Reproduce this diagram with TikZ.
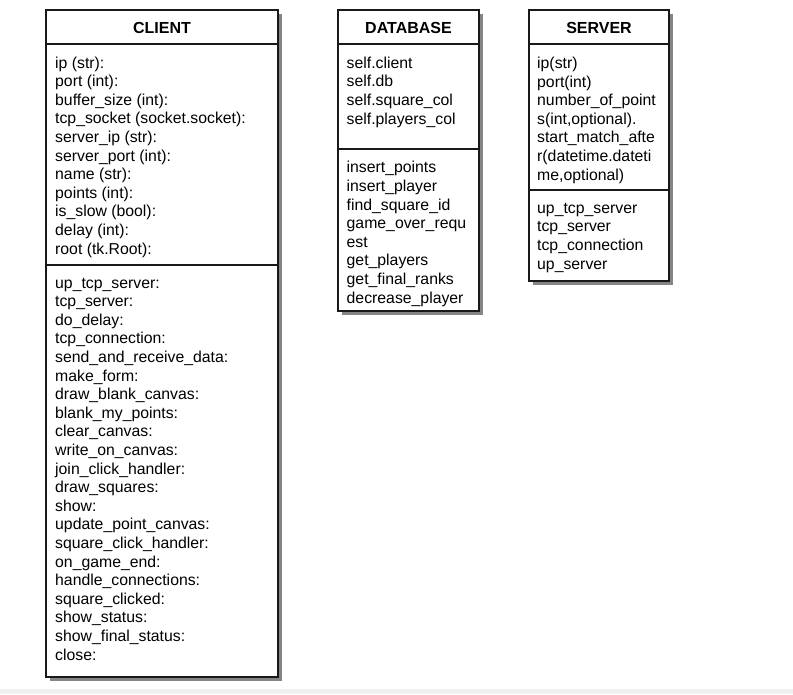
\documentclass[tikz,border=0pt]{standalone}
\usepackage{fontspec}
\setmainfont{Liberation Sans}
\usetikzlibrary{positioning}
\usetikzlibrary{shadows}
\definecolor{shadow-gray}{RGB}{120,120,120}
\definecolor{strip-gray}{RGB}{240,240,240}

\begin{document}
\begin{tikzpicture}[x=1pt, y=-1pt,
box/.style={draw=black!90, line width=1.8pt, fill=white, drop shadow={shadow xshift=3.5pt, shadow yshift=-3.5pt, fill=shadow-gray, opacity=0.9}},
bar/.style={black!90, line width=1.8pt},
title/.style={inner sep=0pt, anchor=base, font=\bfseries\fontsize{16}{18}\selectfont},
members/.style={inner sep=0pt, anchor=base west, align=left, font=\fontsize{15.8}{18.6}\selectfont}]
\useasboundingbox (0,0) rectangle (793,694);
\fill[strip-gray] (0,689) rectangle (793,694);

% boxes
\draw[box] (46,10) rectangle (278,677);
\draw[box] (338,10) rectangle (479,311);
\draw[box] (529,10) rectangle (669,281);

% dividers
\draw[bar] (46,44) -- (278,44);
\draw[bar] (46,265) -- (278,265);
\draw[bar] (338,44) -- (479,44);
\draw[bar] (338,149) -- (479,149);
\draw[bar] (529,44) -- (669,44);
\draw[bar] (529,190) -- (669,190);

% member lists are placed at the baseline of their last line
%%%%%%%%%%%%%%%%%%%%%%%% client
\node [title] (client) at (162,33) {CLIENT};
\node [members] (client-attr) at (55,254) {ip (str):\\ port (int):\\ buffer\_size (int):\\ tcp\_socket (socket.socket):\\ server\_ip (str):\\ server\_port (int):\\ name (str):\\ points (int):\\ is\_slow (bool):\\ delay (int):\\ root (tk.Root):};
\node [members] (client-meth) at (55,660) {up\_tcp\_server:\\ tcp\_server:\\ do\_delay:\\ tcp\_connection:\\ send\_and\_receive\_data:\\ make\_form:\\ draw\_blank\_canvas:\\ blank\_my\_points:\\ clear\_canvas:\\ write\_on\_canvas:\\ join\_click\_handler:\\ draw\_squares:\\ show:\\ update\_point\_canvas:\\ square\_click\_handler:\\ on\_game\_end:\\ handle\_connections:\\ square\_clicked:\\ show\_status:\\ show\_final\_status:\\ close:};

%%%%%%%%%%%%%%%%%%%%%%%% database
\node [title] (database) at (408.5,33) {DATABASE};
\node [members] (database-attr) at (346.5,124) {self.client\\ self.db\\ self.square\_col\\ self.players\_col};
\node [members] (database-meth) at (346.5,303) {insert\_points\\ insert\_player\\ find\_square\_id\\ game\_over\_requ\\ est\\ get\_players\\ get\_final\_ranks\\ decrease\_player};

%%%%%%%%%%%%%%%%%%%%%%%% server
\node [title] (server) at (599,33) {SERVER};
\node [members] (server-attr) at (537,180) {ip(str)\\ port(int)\\ number\_of\_point\\ s(int,optional).\\ start\_match\_afte\\ r(datetime.dateti\\ me,optional)};
\node [members] (server-meth) at (537,269) {up\_tcp\_server\\ tcp\_server\\ tcp\_connection\\ up\_server};

\end{tikzpicture}
\end{document}
